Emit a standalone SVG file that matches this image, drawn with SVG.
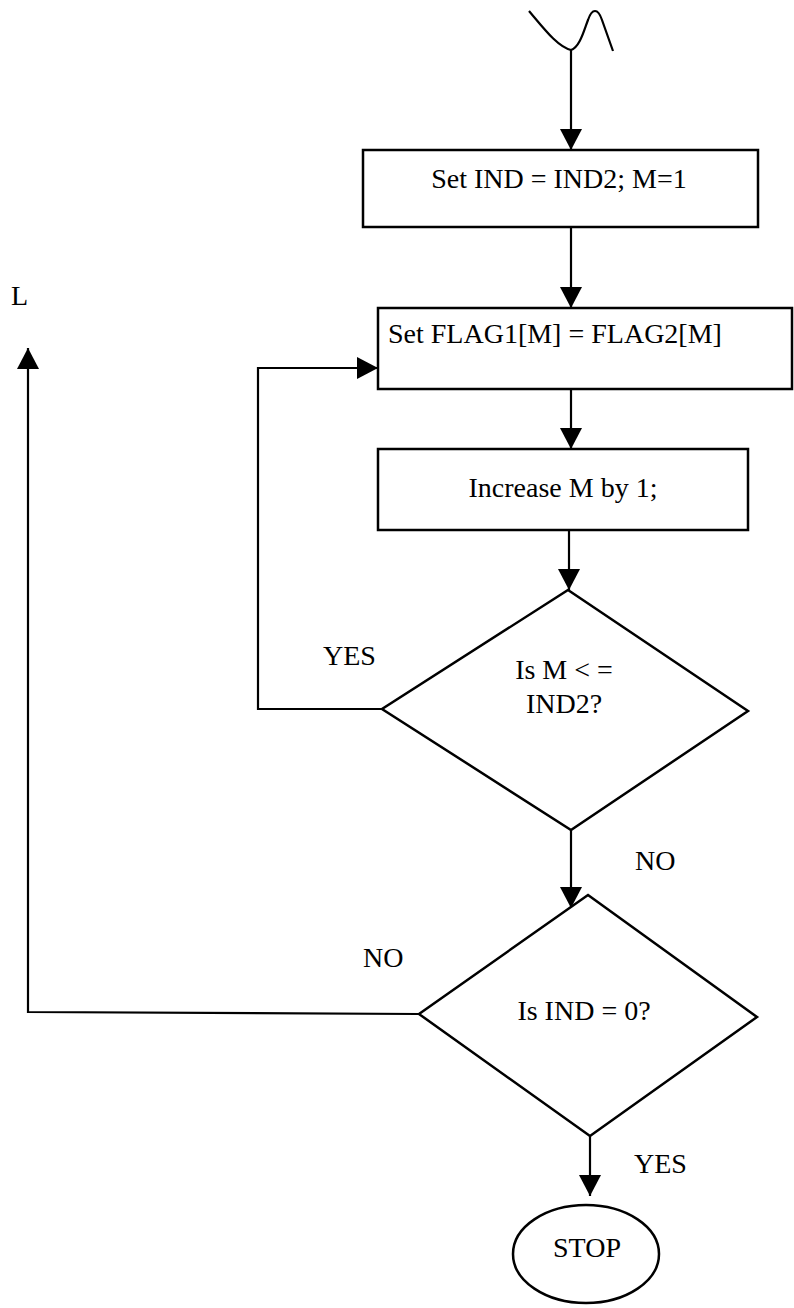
<svg xmlns="http://www.w3.org/2000/svg" width="794" height="1308" viewBox="0 0 794 1308">
<defs>
<marker id="arr" markerUnits="userSpaceOnUse" markerWidth="22" markerHeight="22" refX="21" refY="11" orient="auto">
<path d="M0,0 L21,11 L0,22 z" fill="#000"/>
</marker>
<style>
.shape{fill:#fff;stroke:#000;stroke-width:2.5}
.line{fill:none;stroke:#000;stroke-width:2.2}
.t{font-family:"Liberation Serif","Times New Roman",serif;font-size:28px;fill:#000}
.c{text-anchor:middle}
</style>
</defs>
<rect width="794" height="1308" fill="#fff"/>
<g id="connectors">
<path class="line" d="M529,11 C545,30 558,47 571,50 C580,47 584,30 588,20 C592,8 598,8 602,20 L613,51" stroke-width="3"/>
<path class="line" d="M571,50 L571,150" marker-end="url(#arr)"/>
<path class="line" d="M571,227 L571,308" marker-end="url(#arr)"/>
<path class="line" d="M571,389 L571,449" marker-end="url(#arr)"/>
<path class="line" d="M569,530 L569,590" marker-end="url(#arr)"/>
<path class="line" d="M382,709 L258,709 L258,368 L378,368" marker-end="url(#arr)"/>
<path class="line" d="M571,830 L571,908" marker-end="url(#arr)"/>
<path class="line" d="M419,1014 L28,1012 L28,348" marker-end="url(#arr)"/>
<path class="line" d="M590,1136 L590,1196" marker-end="url(#arr)"/>
</g>
<g id="box1">
<rect class="shape" x="363" y="150" width="395" height="77"/>
<text class="t c" x="559" y="188">Set IND = IND2; M=1</text>
</g>
<g id="box2">
<rect class="shape" x="378" y="308" width="414" height="81"/>
<text class="t" x="388" y="343">Set FLAG1[M] = FLAG2[M]</text>
</g>
<g id="box3">
<rect class="shape" x="378" y="449" width="370" height="81"/>
<text class="t c" x="563" y="497">Increase M by 1;</text>
</g>
<g id="decision1">
<polygon class="shape" points="568,590 748,711 571,830 382,709"/>
<text class="t c" x="564" y="679">Is M &lt; =</text>
<text class="t c" x="564" y="713">IND2?</text>
</g>
<g id="decision2">
<polygon class="shape" points="588,895 757,1017 590,1136 419,1014"/>
<text class="t c" x="584" y="1020">Is IND = 0?</text>
</g>
<g id="stop">
<ellipse class="shape" cx="586" cy="1254" rx="73" ry="49"/>
<text class="t c" x="587" y="1257">STOP</text>
</g>
<g id="labels">
<text class="t" x="11" y="305">L</text>
<text class="t" x="323" y="665">YES</text>
<text class="t" x="635" y="870">NO</text>
<text class="t" x="363" y="967">NO</text>
<text class="t" x="634" y="1173">YES</text>
</g>
</svg>
